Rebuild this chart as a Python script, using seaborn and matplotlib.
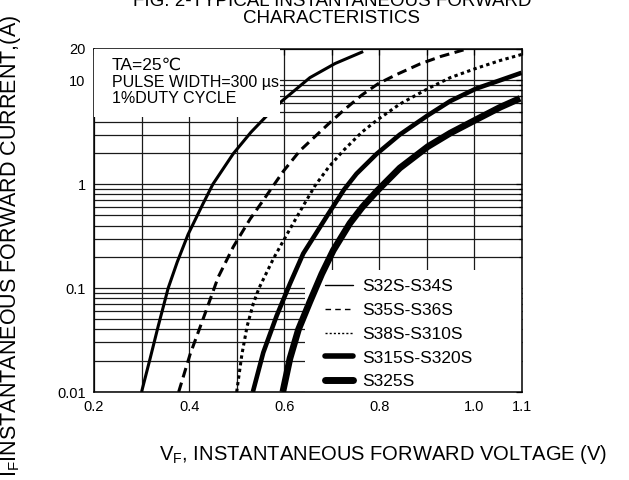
import matplotlib
matplotlib.use('Agg')
import matplotlib.pyplot as plt
from matplotlib.lines import Line2D
from matplotlib.patches import Rectangle
from matplotlib.ticker import LogLocator, NullFormatter
import seaborn as sns

# curves (V_F in volts, I_F in amps)
vf_s32 = [0.300, 0.318, 0.335, 0.356, 0.375, 0.398, 0.429, 0.450, 0.493, 0.530,
          0.570, 0.595, 0.654, 0.707, 0.766]
if_s32 = [0.010, 0.021, 0.043, 0.100, 0.178, 0.330, 0.645, 1.00, 1.97, 3.16,
          4.9, 6.3, 10.6, 14.5, 18.9]

vf_s35 = [0.378, 0.402, 0.433, 0.461, 0.493, 0.528, 0.553, 0.598, 0.633, 0.693,
          0.724, 0.763, 0.798, 0.837, 0.886, 0.930, 0.977]
if_s35 = [0.010, 0.023, 0.056, 0.127, 0.250, 0.460, 0.670, 1.33, 2.1, 3.8,
          5.1, 7.2, 9.3, 11.4, 14.4, 17.0, 19.6]

vf_s38 = [0.500, 0.511, 0.522, 0.535, 0.547, 0.578, 0.612, 0.640, 0.665, 0.693,
          0.724, 0.763, 0.794, 0.843, 0.902, 0.949, 1.003, 1.054, 1.099]
if_s38 = [0.010, 0.023, 0.043, 0.071, 0.100, 0.195, 0.370, 0.620, 0.97, 1.45,
          2.1, 3.16, 4.1, 5.9, 8.3, 10.6, 13.0, 15.5, 17.7]

vf_s315 = [0.534, 0.556, 0.584, 0.612, 0.640, 0.693, 0.726, 0.752, 0.794, 0.843,
           0.902, 0.949, 1.003, 1.054, 1.099]
if_s315 = [0.010, 0.024, 0.054, 0.110, 0.215, 0.520, 0.890, 1.26, 1.95, 3.0,
           4.6, 6.3, 8.3, 10.0, 11.8]

vf_s325 = [0.597, 0.612, 0.630, 0.654, 0.679, 0.703, 0.738, 0.764, 0.794, 0.843,
           0.902, 0.949, 1.003, 1.054, 1.096]
if_s325 = [0.010, 0.021, 0.040, 0.074, 0.137, 0.230, 0.420, 0.600, 0.85, 1.43,
           2.3, 3.1, 4.17, 5.5, 6.7]

names = ['S32S-S34S', 'S35S-S36S', 'S38S-S310S', 'S315S-S320S', 'S325S']

x_ticks = [0.2, 0.3, 0.4, 0.5, 0.6, 0.7, 0.8, 0.9, 1.0, 1.1]
x_labels = ['0.2', '', '0.4', '', '0.6', '', '0.8', '', '1.0', '1.1']
y_ticks = [0.01, 0.1, 1, 10, 20]
y_labels = ['0.01', '0.1', '1', '10', '20']

sns.set_theme(style='white', rc={'axes.edgecolor': 'black', 'text.color': 'black',
                                 'xtick.color': 'black', 'ytick.color': 'black'})
plt.rcParams['font.family'] = ['Liberation Sans', 'DejaVu Sans']

fig = plt.figure(figsize=(6.29, 4.80), dpi=100)
ax = fig.add_axes([94 / 629, 1 - 392 / 480, 428 / 629, 343 / 480])

# plot styles: (line width, linestyle)
styles = [
    (2.2, '-'),
    (2.2, (0, (3.2, 1.8))),
    (2.2, (0, (1.1, 1.1))),
    (3.3, '-'),
    (4.8, '-'),
]
data = [(vf_s32, if_s32), (vf_s35, if_s35), (vf_s38, if_s38),
        (vf_s315, if_s315), (vf_s325, if_s325)]

for (v, i), (lw, ls) in zip(data, styles):
    sns.lineplot(x=v, y=i, ax=ax, color='black', sort=False, estimator=None,
                 lw=lw, linestyle=ls, zorder=3, solid_capstyle='butt')

ax.set_yscale('log')
ax.set_xlim(0.2, 1.1)
ax.set_ylim(0.01, 20)

ax.set_xticks(x_ticks)
ax.set_xticklabels(x_labels)
ax.set_yticks(y_ticks)
ax.set_yticklabels(y_labels)
ax.yaxis.set_minor_locator(LogLocator(base=10, subs=range(2, 10)))
ax.yaxis.set_minor_formatter(NullFormatter())

ax.grid(True, which='both', color='#1a1a1a', lw=0.9)
ax.set_axisbelow(True)
ax.tick_params(which='both', direction='in', top=True, right=True,
               labelsize=10.5, pad=6)
ax.tick_params(which='major', length=4, width=0.9)
ax.tick_params(which='minor', length=2, width=0.9)
for s in ax.spines.values():
    s.set_color('black')
    s.set_linewidth(1.1)

# white boxes for the condition note and the legend (hide the grid)
ax.add_patch(Rectangle((0, 0.802), 0.435, 0.198, transform=ax.transAxes,
                       fc='white', ec='none', zorder=4))
ax.add_patch(Rectangle((0.493, 0), 0.507, 0.356, transform=ax.transAxes,
                       fc='white', ec='none', zorder=1))

ax.text(0.042, 0.953, 'TA=25℃', transform=ax.transAxes, fontsize=12.5,
        va='center', zorder=5)
ax.text(0.042, 0.903, 'PULSE WIDTH=300 µs', transform=ax.transAxes, fontsize=11.5,
        va='center', zorder=5)
ax.text(0.042, 0.855, '1%DUTY CYCLE', transform=ax.transAxes, fontsize=11.5,
        va='center', zorder=5)

leg_styles = [(1.0, '-'), (1.0, (0, (4, 3))), (1.0, (0, (1.5, 1.5))), (4.0, '-'), (5.0, '-')]
handles = [Line2D([], [], color='black', lw=lw, linestyle=ls) for lw, ls in leg_styles]
leg = ax.legend(handles, names, loc='upper left', bbox_to_anchor=(0.52, 0.355),
                frameon=False, borderpad=0, handlelength=1.6, handletextpad=0.5,
                labelspacing=0.5, fontsize=12.5)
leg.set_zorder(2)

fig.text(332 / 629, 1 - 10 / 480, 'FIG. 2-TYPICAL INSTANTANEOUS FORWARD\nCHARACTERISTICS',
         ha='center', va='center', fontsize=13.5, linespacing=1.05)
fig.text(383 / 629, 1 - 455 / 480, r'V$_\mathregular{F}$, INSTANTANEOUS FORWARD VOLTAGE (V)',
         ha='center', va='center', fontsize=14.5)
fig.text(11 / 629, 1 - 246 / 480, r'I$_\mathregular{F}$INSTANTANEOUS FORWARD CURRENT,(A)',
         rotation=90, ha='center', va='center', fontsize=15.5)

fig.savefig('out.png', dpi=100)
